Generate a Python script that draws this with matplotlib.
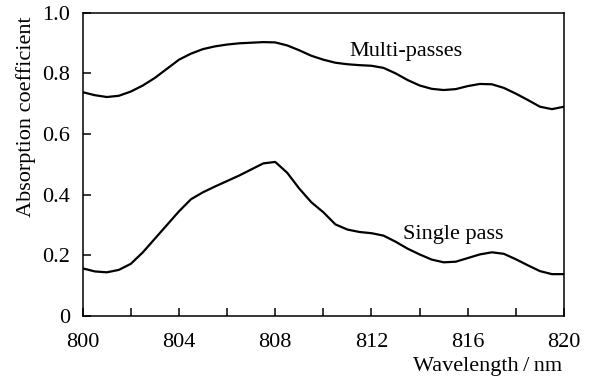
import matplotlib
matplotlib.use('Agg')
import matplotlib.pyplot as plt

plt.rcParams['font.family'] = 'Liberation Serif'
plt.rcParams['font.size'] = 16

# Wavelength grid (nm) and absorption readings
wavelength = [800.0, 800.5, 801.0, 801.5, 802.0, 802.5, 803.0, 803.5, 804.0, 804.5,
              805.0, 805.5, 806.0, 806.5, 807.0, 807.5, 808.0, 808.5, 809.0, 809.5,
              810.0, 810.5, 811.0, 811.5, 812.0, 812.5, 813.0, 813.5, 814.0, 814.5,
              815.0, 815.5, 816.0, 816.5, 817.0, 817.5, 818.0, 818.5, 819.0, 819.5,
              820.0]
multi_pass = [0.738, 0.728, 0.722, 0.726, 0.740, 0.760, 0.785, 0.815, 0.845, 0.865,
              0.880, 0.889, 0.895, 0.899, 0.901, 0.903, 0.902, 0.892, 0.876, 0.858,
              0.845, 0.835, 0.830, 0.827, 0.825, 0.818, 0.800, 0.778, 0.760, 0.749,
              0.745, 0.748, 0.758, 0.765, 0.764, 0.752, 0.733, 0.712, 0.690, 0.682,
              0.690]
single_pass = [0.157, 0.147, 0.144, 0.152, 0.172, 0.210, 0.255, 0.300, 0.345, 0.385,
               0.408, 0.427, 0.445, 0.463, 0.483, 0.503, 0.508, 0.472, 0.420, 0.375,
               0.342, 0.302, 0.285, 0.277, 0.273, 0.265, 0.245, 0.222, 0.203, 0.186,
               0.177, 0.179, 0.191, 0.203, 0.210, 0.205, 0.187, 0.167, 0.148, 0.138,
               0.138]

x_ticks = [800, 802, 804, 806, 808, 810, 812, 814, 816, 818, 820]
x_labels = ['800', '', '804', '', '808', '', '812', '', '816', '', '820']
y_ticks = [0, 0.2, 0.4, 0.6, 0.8, 1.0]
y_labels = ['0', '0.2', '0.4', '0.6', '0.8', '1.0']

fig = plt.figure(figsize=(5.89, 3.81), dpi=100)
ax = fig.add_axes([0.1404, 0.1706, 0.8172, 0.7961])

ax.plot(wavelength, multi_pass, color='black', lw=1.6, solid_joinstyle='round')
ax.plot(wavelength, single_pass, color='black', lw=1.6, solid_joinstyle='round')

ax.set_xlim(800, 820)
ax.set_ylim(0, 1.0)
ax.set_xticks(x_ticks)
ax.set_xticklabels(x_labels)
ax.set_yticks(y_ticks)
ax.set_yticklabels(y_labels)
ax.tick_params(direction='in', length=6, width=1.1, top=False, right=False)
ax.tick_params(axis='x', pad=12)
ax.tick_params(axis='y', pad=9)
for s in ax.spines.values():
    s.set_linewidth(1.1)

# curve labels
ax.text(813.45, 0.873, 'Multi-passes', ha='center', va='center')
ax.text(815.4, 0.270, 'Single pass', ha='center', va='center')

fig.text(26 / 589, 1 - 117 / 381, 'Absorption coefficient', rotation=90,
         ha='center', va='center')
fig.text(562 / 589, 1 - 367 / 381, 'Wavelength\u2009/\u2009nm', ha='right', va='center')

fig.savefig('out.png', dpi=100)
